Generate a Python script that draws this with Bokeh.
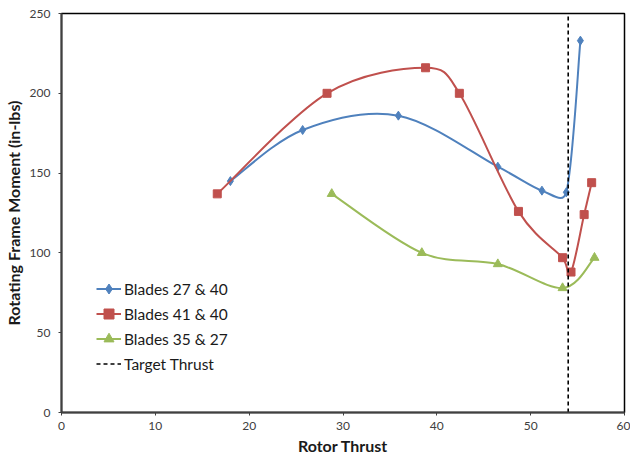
import math

from bokeh.plotting import figure
from bokeh.models import Legend, LegendItem, FixedTicker, Range1d
from bokeh.embed import file_html
from bokeh.resources import INLINE

# Rotor thrust vs. rotating frame moment for three blade pairings
thrust_27_40 = [18.0, 25.7, 35.9, 46.5, 51.2, 53.8, 55.3]
moment_27_40 = [145, 177, 186, 154, 139, 138, 233]

thrust_41_40 = [16.6, 28.3, 38.8, 42.4, 48.7, 53.4, 54.3, 55.7, 56.5]
moment_41_40 = [137, 200, 216, 200, 126, 97, 88, 124, 144]

thrust_35_27 = [28.8, 38.4, 46.5, 53.4, 56.8]
moment_35_27 = [137, 100, 93, 78, 97]

target_thrust = 54.0

x_ticks = [0, 10, 20, 30, 40, 50, 60]
y_ticks = [0, 50, 100, 150, 200, 250]

FONT = "Lato"
FRAME_W, FRAME_H = 563, 399
X_MAX, Y_MAX = 60, 250
SX, SY = FRAME_W / X_MAX, FRAME_H / Y_MAX   # screen px per data unit


def smooth_segments(xs, ys, k=1.0 / 6.0, cap=0.5):
    """Cubic Bezier pieces through the points (cardinal spline), with each
    handle limited to a fraction of its segment's on-screen length."""
    n = len(xs)

    def arm(i, j, a, b):
        # handle from point i, direction (point b - point a), limited by segment i-j
        dx, dy = (xs[b] - xs[a]) * k, (ys[b] - ys[a]) * k
        alen = math.hypot(dx * SX, dy * SY)
        slen = math.hypot((xs[j] - xs[i]) * SX, (ys[j] - ys[i]) * SY)
        s = 1.0 if alen <= cap * slen or alen == 0 else cap * slen / alen
        return dx * s, dy * s

    seg = dict(x0=[], y0=[], x1=[], y1=[], cx0=[], cy0=[], cx1=[], cy1=[])
    for i in range(n - 1):
        p = max(i - 1, 0)
        q = min(i + 2, n - 1)
        ax, ay = arm(i, i + 1, p, i + 1)
        bx, by = arm(i + 1, i, i, q)
        seg["x0"].append(xs[i]); seg["y0"].append(ys[i])
        seg["x1"].append(xs[i + 1]); seg["y1"].append(ys[i + 1])
        seg["cx0"].append(xs[i] + ax); seg["cy0"].append(ys[i] + ay)
        seg["cx1"].append(xs[i + 1] - bx); seg["cy1"].append(ys[i + 1] - by)
    return seg


p = figure(width=630, height=456, output_backend="svg", toolbar_location=None,
           x_range=Range1d(0, X_MAX), y_range=Range1d(0, Y_MAX),
           min_border_left=61, min_border_right=6, min_border_top=13, min_border_bottom=44)
p.frame_width = FRAME_W
p.frame_height = FRAME_H

p.xgrid.visible = False
p.ygrid.visible = False
p.background_fill_color = "white"
p.border_fill_color = "white"
p.outline_line_color = "black"
p.outline_line_width = 1.5

for ax in (p.xaxis[0], p.yaxis[0]):
    ax.axis_line_color = "#404040"
    ax.axis_line_width = 2
    ax.major_tick_line_color = "#404040"
    ax.major_tick_out = 3
    ax.major_tick_in = 0
    ax.minor_tick_line_color = None
    ax.major_label_text_font = FONT
    ax.major_label_text_font_size = "12px"
    ax.major_label_text_color = "#404040"
    ax.axis_label_text_font = FONT
    ax.axis_label_text_font_size = "16px"
    ax.axis_label_text_font_style = "bold"
    ax.axis_label_text_color = "#1a1a1a"

p.xaxis.ticker = FixedTicker(ticks=x_ticks)
p.yaxis.ticker = FixedTicker(ticks=y_ticks)
p.xaxis.axis_label = "Rotor Thrust"
p.yaxis.axis_label = "Rotating Frame Moment (in-lbs)"
p.xaxis.major_label_standoff = 6
p.yaxis.major_label_standoff = 8
p.xaxis.axis_label_standoff = 3
p.yaxis.axis_label_standoff = 4

series = [
    ("Blades 27 & 40", thrust_27_40, moment_27_40, "#4F81BD", "diamond", 9),
    ("Blades 41 & 40", thrust_41_40, moment_41_40, "#C0504D", "square", 8),
    ("Blades 35 & 27", thrust_35_27, moment_35_27, "#9BBB59", "triangle", 9),
]

items = []
for label, xs, ys, color, marker, size in series:
    curve = p.bezier(line_color=color, line_width=2, **smooth_segments(xs, ys))
    dots = p.scatter(xs, ys, marker=marker, size=size, fill_color=color, line_color=color)
    items.append(LegendItem(label=label, renderers=[curve, dots]))

target = p.line([target_thrust, target_thrust], [0, Y_MAX], line_color="black",
                line_width=1.6, line_dash="4 3")
items.append(LegendItem(label="Target Thrust", renderers=[target]))

legend = Legend(items=items, location=(35, 36), padding=0, margin=0, spacing=0,
                glyph_width=25, glyph_height=25, label_standoff=3,
                label_text_font=FONT, label_text_font_size="15.5px",
                label_text_color="#1a1a1a", border_line_alpha=0,
                background_fill_alpha=0)
p.add_layout(legend, "center")

open("out.html", "w").write(file_html(p, INLINE))
